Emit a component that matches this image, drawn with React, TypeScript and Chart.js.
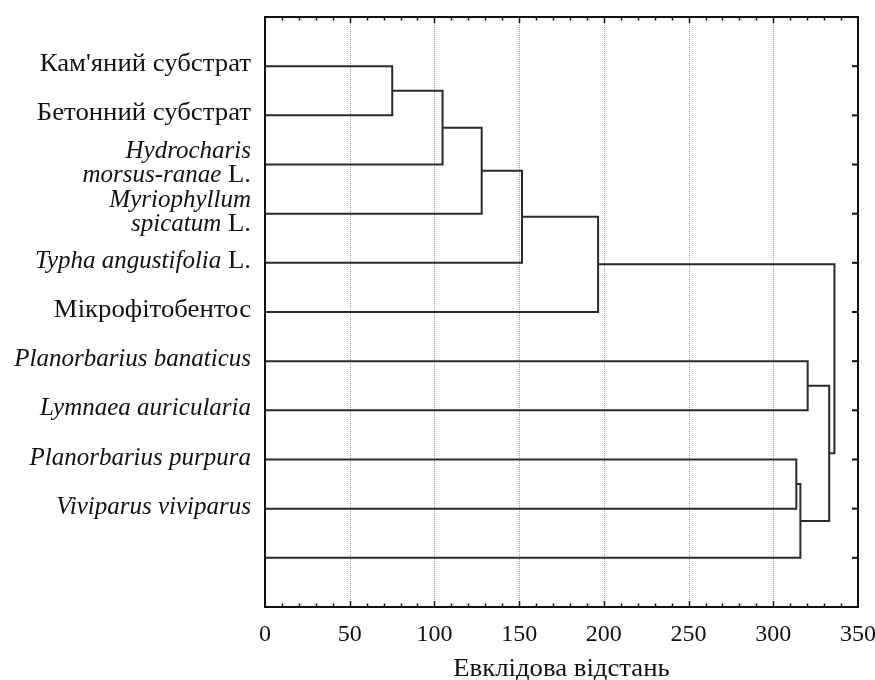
import { useEffect, useRef } from "react";
import { Chart, registerables } from "chart.js";

Chart.register(...registerables);

// Leaves of the dendrogram, top to bottom. "*…*" marks an italic run, "|" breaks a line.
const leafLabels: string[] = [
  "Кам'яний субстрат",
  "Бетонний субстрат",
  "*Hydrocharis*|*morsus-ranae* L.",
  "*Myriophyllum*|*spicatum* L.",
  "*Typha angustifolia* L.",
  "Мікрофітобентос",
  "*Planorbarius banaticus*",
  "*Lymnaea auricularia*",
  "*Planorbarius purpura*",
  "*Viviparus viviparus*",
  "",
];

// Agglomeration steps: ids 0–10 are leaves, merge k creates node 11 + k.
const mergeLeft = [0, 11, 12, 13, 14, 8, 16, 6, 18, 15];
const mergeRight = [1, 2, 3, 4, 5, 9, 10, 7, 17, 19];
const mergeHeight = [75.1, 104.8, 127.9, 151.7, 196.6, 313.6, 316.0, 320.3, 333.0, 336.1];

const xTicks = [0, 50, 100, 150, 200, 250, 300, 350];
const axisTitle = "Евклідова відстань";

const FONT = '"Liberation Serif", "DejaVu Serif", serif';
const LABEL_SIZE = 25;
const TICK_SIZE = 24;
const TITLE_SIZE = 25;
// upright serif text is set slightly wide
const UPRIGHT_STRETCH = 1.07;

function buildSegments() {
  const nodeY: number[] = leafLabels.map((_, i) => i + 1);
  const nodeH: number[] = leafLabels.map(() => 0);
  return mergeHeight.map((h, k) => {
    const a = mergeLeft[k];
    const b = mergeRight[k];
    const ya = nodeY[a];
    const yb = nodeY[b];
    nodeY.push((ya + yb) / 2);
    nodeH.push(h);
    return {
      data: [
        { x: nodeH[a], y: ya },
        { x: h, y: ya },
        { x: h, y: yb },
        { x: nodeH[b], y: yb },
      ],
      showLine: true,
      borderColor: "#2a2a2a",
      borderWidth: 2,
      borderJoinStyle: "miter" as const,
      pointRadius: 0,
      tension: 0,
      fill: false,
    };
  });
}

function parseRuns(line: string): { text: string; italic: boolean }[] {
  const parts = line.split("*");
  return parts
    .map((text, i) => ({ text, italic: i % 2 === 1 }))
    .filter((r) => r.text.length > 0);
}

function drawStretched(ctx: CanvasRenderingContext2D, text: string, x: number, y: number, sx: number) {
  ctx.save();
  ctx.translate(x, y);
  ctx.scale(sx, 1);
  ctx.fillText(text, 0, 0);
  ctx.restore();
}

function drawRichRight(ctx: CanvasRenderingContext2D, line: string, xRight: number, yBase: number) {
  const runs = parseRuns(line);
  const widths = runs.map((r) => {
    ctx.font = `${r.italic ? "italic " : ""}${LABEL_SIZE}px ${FONT}`;
    return ctx.measureText(r.text).width * (r.italic ? 1 : UPRIGHT_STRETCH);
  });
  let x = xRight - widths.reduce((s, w) => s + w, 0);
  runs.forEach((r, i) => {
    ctx.font = `${r.italic ? "italic " : ""}${LABEL_SIZE}px ${FONT}`;
    drawStretched(ctx, r.text, x, yBase, r.italic ? 1 : UPRIGHT_STRETCH);
    x += widths[i];
  });
}

const dendroDecor = {
  id: "dendroDecor",
  beforeDatasetsDraw(chart: any) {
    const { ctx, chartArea, scales } = chart;
    const xs = scales.x;
    ctx.save();
    ctx.strokeStyle = "#9c9c9c";
    ctx.lineWidth = 1;
    ctx.setLineDash([1, 1]);
    xTicks.forEach((v) => {
      if (v <= xs.min || v >= xs.max) return;
      const px = Math.round(xs.getPixelForValue(v)) + 0.5;
      ctx.beginPath();
      ctx.moveTo(px, chartArea.top);
      ctx.lineTo(px, chartArea.bottom);
      ctx.stroke();
    });
    ctx.restore();
  },
  afterDatasetsDraw(chart: any) {
    const { ctx, chartArea, scales } = chart;
    const xs = scales.x;
    const ys = scales.y;
    const { left, right, top, bottom } = chartArea;
    ctx.save();
    ctx.setLineDash([]);
    ctx.strokeStyle = "#111";

    // minor / major ticks on top and bottom edges, pointing inward
    ctx.lineWidth = 1.5;
    for (let v = 10; v < 350; v += 10) {
      const px = Math.round(xs.getPixelForValue(v)) + 0.5;
      const len = v % 50 === 0 ? 6 : 3.5;
      ctx.beginPath();
      ctx.moveTo(px, top);
      ctx.lineTo(px, top + len);
      ctx.moveTo(px, bottom);
      ctx.lineTo(px, bottom - len);
      ctx.stroke();
    }

    // ticks on the right edge at every leaf
    ctx.lineWidth = 2;
    leafLabels.forEach((_, i) => {
      const py = ys.getPixelForValue(i + 1);
      ctx.beginPath();
      ctx.moveTo(right, py);
      ctx.lineTo(right - 6, py);
      ctx.stroke();
    });

    // frame
    ctx.lineWidth = 2;
    ctx.strokeRect(left, top, right - left, bottom - top);

    // leaf labels
    ctx.fillStyle = "#111";
    ctx.textAlign = "left";
    ctx.textBaseline = "alphabetic";
    leafLabels.forEach((label, i) => {
      if (!label) return;
      const py = ys.getPixelForValue(i + 1);
      const lines = label.split("|");
      if (lines.length === 1) {
        drawRichRight(ctx, lines[0], left - 14, py + 5);
      } else {
        drawRichRight(ctx, lines[0], left - 14, py - 7);
        drawRichRight(ctx, lines[1], left - 14, py + 17);
      }
    });

    // x tick numbers
    ctx.font = `${TICK_SIZE}px ${FONT}`;
    ctx.textAlign = "center";
    xTicks.forEach((v) => {
      ctx.fillText(String(v), xs.getPixelForValue(v), bottom + 34);
    });

    // axis title
    ctx.font = `${TITLE_SIZE}px ${FONT}`;
    drawStretched(ctx, axisTitle, (left + right) / 2, bottom + 69, UPRIGHT_STRETCH);
    ctx.restore();
  },
};

export default function App() {
  const canvasRef = useRef<HTMLCanvasElement | null>(null);

  useEffect(() => {
    const canvas = canvasRef.current;
    if (!canvas) return;
    const chart = new Chart(canvas, {
      type: "scatter",
      data: { datasets: buildSegments() as any },
      options: {
        animation: false,
        responsive: false,
        maintainAspectRatio: false,
        layout: { padding: { top: 17, right: 17, left: 0, bottom: 0 } },
        plugins: {
          legend: { display: false },
          tooltip: { enabled: false },
          title: { display: false },
        },
        scales: {
          x: {
            type: "linear",
            min: 0,
            max: 350,
            ticks: { display: false },
            grid: { display: false },
            border: { display: false },
            afterFit: (scale: any) => {
              scale.height = 73;
            },
          },
          y: {
            type: "linear",
            min: 0,
            max: 12,
            reverse: true,
            ticks: { display: false },
            grid: { display: false },
            border: { display: false },
            afterFit: (scale: any) => {
              scale.width = 265;
            },
          },
        },
      },
      plugins: [dendroDecor],
    });
    return () => chart.destroy();
  }, []);

  return (
    <div style={{ position: "fixed", left: 0, top: 0, width: 875, height: 680, background: "#fff" }}>
      <canvas ref={canvasRef} width={875} height={680} style={{ display: "block" }} />
    </div>
  );
}
